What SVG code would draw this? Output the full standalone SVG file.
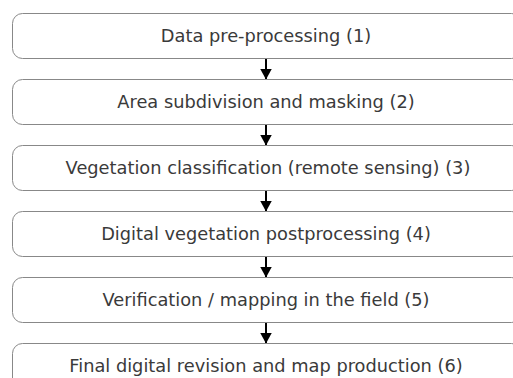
<svg xmlns="http://www.w3.org/2000/svg" width="513" height="378" viewBox="0 0 513 378">
<defs>
<style>
.box{fill:#ffffff;stroke:#888888;stroke-width:1}
.lbl{font-family:"DejaVu Sans",sans-serif;font-size:17.8px;fill:#3a3a3a;text-anchor:middle}
.conn{stroke:#000000;stroke-width:2;fill:none}
</style>
<marker id="ah" markerUnits="userSpaceOnUse" markerWidth="12" markerHeight="12" refX="11" refY="6" orient="auto">
<path d="M0,0 L11,6 L0,12 Z" fill="#000000"/>
</marker>
</defs>
<rect width="513" height="378" fill="#ffffff"/>
<g id="connectors">
<line class="conn" x1="266" y1="58.5" x2="266" y2="79.5" marker-end="url(#ah)"/>
<line class="conn" x1="266" y1="124.5" x2="266" y2="145.5" marker-end="url(#ah)"/>
<line class="conn" x1="266" y1="190.5" x2="266" y2="211.5" marker-end="url(#ah)"/>
<line class="conn" x1="266" y1="256.5" x2="266" y2="277.5" marker-end="url(#ah)"/>
<line class="conn" x1="266" y1="322.5" x2="266" y2="343.5" marker-end="url(#ah)"/>
</g>
<g id="n1">
<rect class="box" x="12.5" y="13.5" width="509" height="45" rx="10" ry="10"/>
<text class="lbl" x="266" y="42">Data pre-processing (1)</text>
</g>
<g id="n2">
<rect class="box" x="12.5" y="79.5" width="509" height="45" rx="10" ry="10"/>
<text class="lbl" x="266" y="108">Area subdivision and masking (2)</text>
</g>
<g id="n3">
<rect class="box" x="12.5" y="145.5" width="509" height="45" rx="10" ry="10"/>
<text class="lbl" x="268" y="174">Vegetation classification (remote sensing) (3)</text>
</g>
<g id="n4">
<rect class="box" x="12.5" y="211.5" width="509" height="45" rx="10" ry="10"/>
<text class="lbl" x="266" y="240">Digital vegetation postprocessing (4)</text>
</g>
<g id="n5">
<rect class="box" x="12.5" y="277.5" width="509" height="45" rx="10" ry="10"/>
<text class="lbl" x="266" y="306">Verification / mapping in the field (5)</text>
</g>
<g id="n6">
<rect class="box" x="12.5" y="343.5" width="509" height="45" rx="10" ry="10"/>
<text class="lbl" x="266" y="372">Final digital revision and map production (6)</text>
</g>
</svg>
